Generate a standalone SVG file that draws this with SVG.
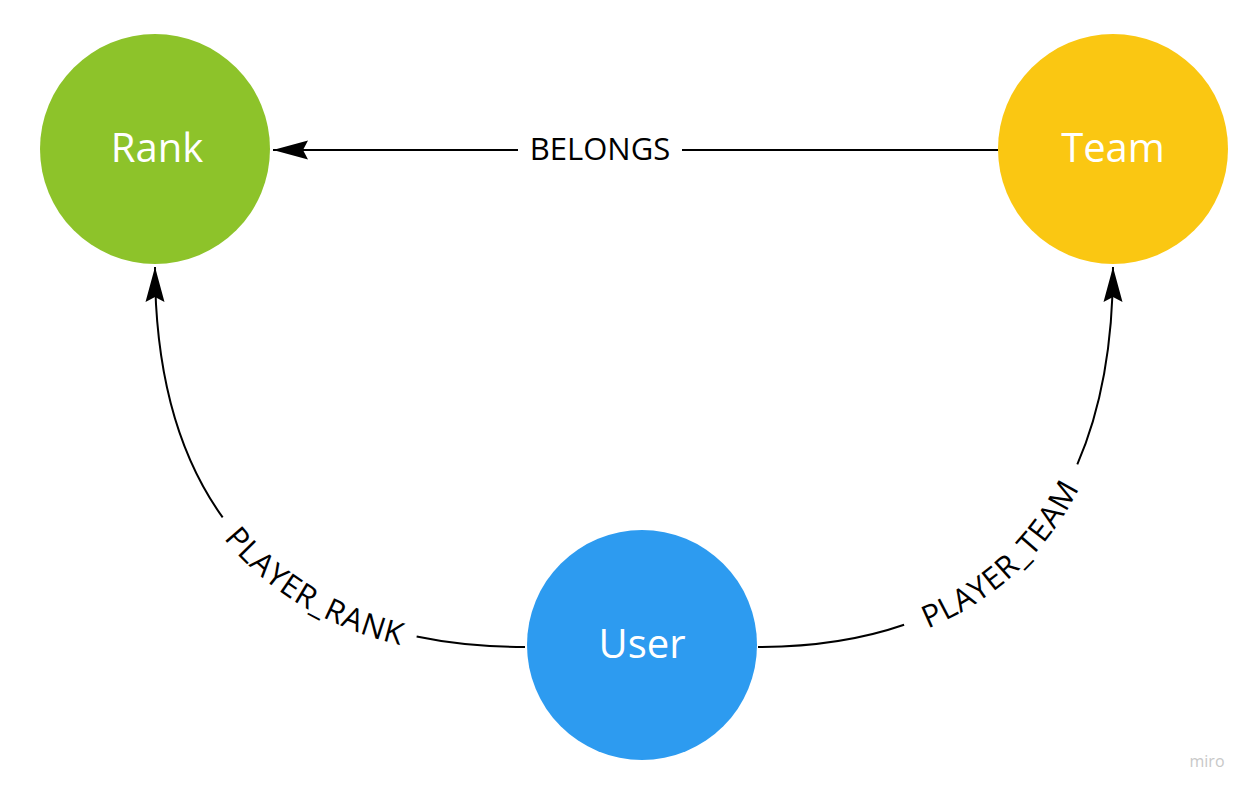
<svg xmlns="http://www.w3.org/2000/svg" width="1255" height="796" viewBox="0 0 1255 796">
<style>
.edge{fill:none;stroke:#000;stroke-width:2}
.elabel{font-family:"Open Sans","Liberation Sans",sans-serif;font-size:31px;fill:#000;text-anchor:middle;dominant-baseline:central}
.nlabel{font-family:"Open Sans","Liberation Sans",sans-serif;font-size:40px;fill:#fff;text-anchor:middle;dominant-baseline:central}
</style>
<defs>
<marker id="arrow" markerUnits="userSpaceOnUse" markerWidth="40" markerHeight="24" viewBox="-36 -12 40 24" refX="0" refY="0" orient="auto">
<path d="M0,0 L-35,-9.5 L-30,0 L-35,9.5 Z" fill="#000"/>
</marker>
<path id="rankPath" d="M155,267 C155,514 284,647 525,647"/>
<path id="teamPath" d="M758,647 C989,647 1113,514 1113,267"/>
</defs>
<rect width="1255" height="796" fill="#fff"/>
<g id="connectors">
<path class="edge" d="M998,150 L682,150"/>
<path class="edge" d="M518,150 L273,150" marker-end="url(#arrow)"/>
<text class="elabel" x="600" y="148">BELONGS</text>
<path class="edge" d="M525,647 C284,647 155,514 155,267" pathLength="100" stroke-dasharray="18 38.5 43.5" marker-end="url(#arrow)"/>
<text class="elabel"><textPath href="#rankPath" startOffset="63%">PLAYER_RANK</textPath></text>
<path class="edge" d="M758,647 C989,647 1113,514 1113,267" pathLength="100" stroke-dasharray="25 41 34" marker-end="url(#arrow)"/>
<text class="elabel"><textPath href="#teamPath" startOffset="45.5%">PLAYER_TEAM</textPath></text>
</g>
<g id="rank">
<circle cx="155" cy="149" r="115" fill="#8DC32A"/>
<text class="nlabel" x="157" y="146">Rank</text>
</g>
<g id="team">
<circle cx="1113" cy="149" r="115" fill="#FAC712"/>
<text class="nlabel" x="1113" y="146">Team</text>
</g>
<g id="user">
<circle cx="642" cy="645" r="115" fill="#2D9BF0"/>
<text class="nlabel" x="642" y="642">User</text>
</g>
<text x="1207" y="767" font-family="'Open Sans','Liberation Sans',sans-serif" font-size="16" fill="#c8c8c8" text-anchor="middle">miro</text>
</svg>
